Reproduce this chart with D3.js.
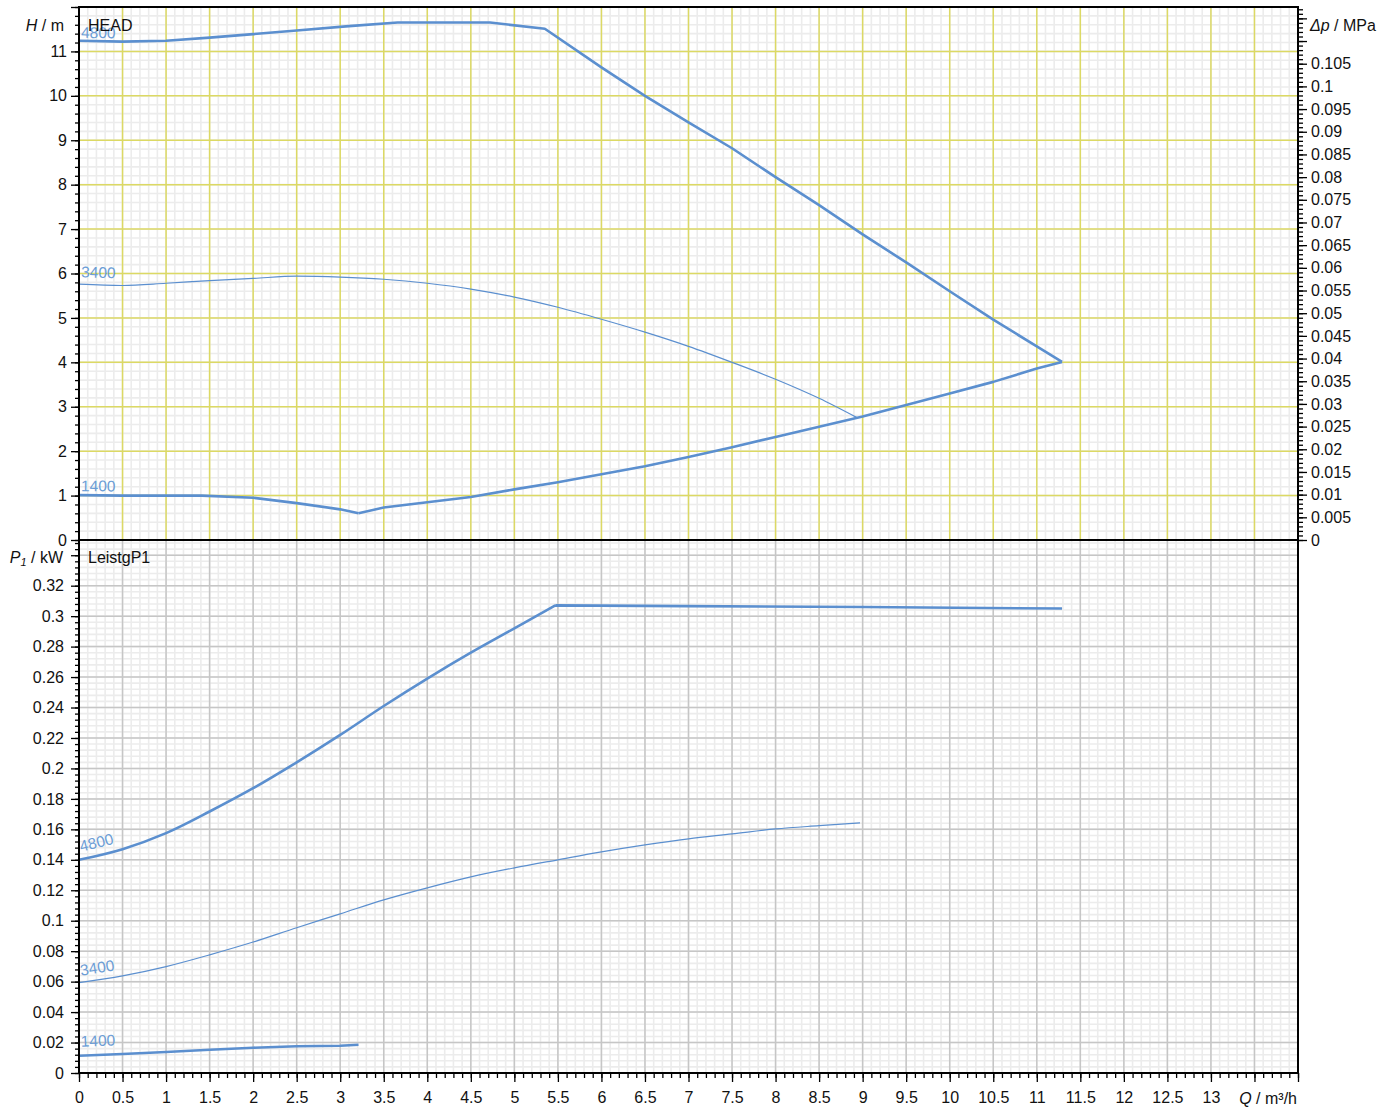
<!DOCTYPE html>
<html>
<head>
<meta charset="utf-8">
<script src="https://cdn.jsdelivr.net/npm/d3@7"></script>
<style>
  body { margin: 0; background: #fff; }
  text { font-family: "Liberation Sans", Arial, sans-serif; }
  .tick text { font-size: 16px; fill: #111; }
  .tick line { stroke: #000; stroke-width: 1.3; }
</style>
</head>
<body>
<svg id="chart"></svg>
<script>
// ---- data ----
// head curves, H in m over Q in m3/h
const q4800H = [0, 0.5, 1, 1.5, 2, 2.5, 3.1, 3.66, 4.72, 5.35, 6, 6.5, 7, 7.5, 8, 8.5, 9, 9.5, 10, 10.5, 11, 11.29]
const h4800  = [11.24, 11.22, 11.24, 11.31, 11.39, 11.47, 11.57, 11.65, 11.65, 11.51, 10.64, 10.0, 9.4, 8.82, 8.17, 7.54, 6.88, 6.25, 5.6, 4.96, 4.36, 4.01]

const q3400H = [0, 0.5, 1, 1.5, 2, 2.5, 3, 3.5, 4, 4.5, 5, 5.5, 6, 6.5, 7, 7.5, 8, 8.5, 8.93]
const h3400  = [5.76, 5.73, 5.78, 5.84, 5.89, 5.94, 5.92, 5.87, 5.78, 5.65, 5.47, 5.24, 4.97, 4.68, 4.36, 4.0, 3.62, 3.19, 2.76]

const q1400H = [0, 0.5, 1, 1.41, 2, 2.5, 3, 3.21]
const h1400  = [1.01, 1.0, 1.0, 1.0, 0.95, 0.83, 0.69, 0.60]

// end-of-curve limit line
const qLimit = [3.21, 3.5, 4, 4.5, 5, 5.5, 6, 6.5, 7, 7.5, 8, 8.5, 9, 9.5, 10, 10.5, 11, 11.29]
const hLimit = [0.60, 0.73, 0.85, 0.97, 1.14, 1.3, 1.48, 1.66, 1.87, 2.09, 2.32, 2.55, 2.78, 3.04, 3.30, 3.56, 3.86, 4.01]

// power curves, P1 in kW
const q4800P = [0, 0.5, 1, 1.5, 2, 2.5, 3, 3.5, 4, 4.5, 5, 5.47, 7, 9, 11.29]
const p4800  = [0.140, 0.147, 0.1575, 0.1717, 0.187, 0.204, 0.222, 0.241, 0.259, 0.276, 0.292, 0.3071, 0.3066, 0.306, 0.305]

const q3400P = [0, 0.5, 1, 1.5, 2, 2.5, 3, 3.5, 4, 4.5, 5, 5.5, 6, 6.5, 7, 7.5, 8, 8.5, 8.97]
const p3400  = [0.0593, 0.0638, 0.0699, 0.0776, 0.086, 0.0954, 0.1045, 0.1137, 0.1216, 0.1288, 0.1347, 0.14, 0.1452, 0.1498, 0.1538, 0.157, 0.1603, 0.1624, 0.1642]

const q1400P = [0, 0.5, 1, 1.5, 2, 2.5, 3, 3.21]
const p1400  = [0.0113, 0.0125, 0.0138, 0.0153, 0.0166, 0.0176, 0.0179, 0.0186]

// tick labels
const qLabels  = [0, 0.5, 1, 1.5, 2, 2.5, 3, 3.5, 4, 4.5, 5, 5.5, 6, 6.5, 7, 7.5, 8, 8.5, 9, 9.5, 10, 10.5, 11, 11.5, 12, 12.5, 13]
const hLabels  = [0, 1, 2, 3, 4, 5, 6, 7, 8, 9, 10, 11]
const dpLabels = [0, 0.005, 0.01, 0.015, 0.02, 0.025, 0.03, 0.035, 0.04, 0.045, 0.05, 0.055, 0.06, 0.065, 0.07, 0.075, 0.08, 0.085, 0.09, 0.095, 0.1, 0.105]
const pLabels  = [0, 0.02, 0.04, 0.06, 0.08, 0.1, 0.12, 0.14, 0.16, 0.18, 0.2, 0.22, 0.24, 0.26, 0.28, 0.3, 0.32]

const MPA_PER_M = 0.009792  // rho*g for water

// ---- layout ----
const W = 1399, H = 1111
const pL = 79, pR = 1298, pT = 7, pM = 540, pB = 1073
const blue = "#5b8fcf"
const labelBlue = "#6b9dd6"

const svg = d3.select("#chart").attr("width", W).attr("height", H)
svg.append("rect").attr("width", W).attr("height", H).attr("fill", "#fff")

const x = d3.scaleLinear().domain([0, 14]).range([pL, pR])
const yH = d3.scaleLinear().domain([0, 12]).range([pM, pT])
const yDp = d3.scaleLinear().domain([0, 12 * MPA_PER_M]).range([pM, pT])
const yP = d3.scaleLinear().domain([0, 0.35]).range([pB, pM])

const steps = (n, s) => d3.range(0, n + 1).map(i => +(i * s).toFixed(4))
const qMinor = steps(140, 0.1), qMajor = steps(28, 0.5)
const hMinor = steps(60, 0.2), hMajor = steps(12, 1)
const dpMinor = steps(117, 0.001), dpMajor = steps(23, 0.005)
const pMinor = steps(87, 0.004), pMajor = steps(17, 0.02)
const fmt = d => String(+d.toFixed(4))

// ---- grids ----
function grid(yScale, yMinor, yMajor, y0, y1, majorColor) {
  const g = svg.append("g")
  g.selectAll(".vmin").data(qMinor).enter().append("line")
    .attr("x1", d => x(d)).attr("x2", d => x(d)).attr("y1", y0).attr("y2", y1)
    .attr("stroke", "#ececec").attr("stroke-width", 1.6)
  g.selectAll(".hmin").data(yMinor).enter().append("line")
    .attr("x1", pL).attr("x2", pR).attr("y1", d => yScale(d)).attr("y2", d => yScale(d))
    .attr("stroke", "#ececec").attr("stroke-width", 1.6)
  g.selectAll(".vmaj").data(qMajor).enter().append("line")
    .attr("x1", d => x(d)).attr("x2", d => x(d)).attr("y1", y0).attr("y2", y1)
    .attr("stroke", majorColor).attr("stroke-width", 1.5)
  g.selectAll(".hmaj").data(yMajor).enter().append("line")
    .attr("x1", pL).attr("x2", pR).attr("y1", d => yScale(d)).attr("y2", d => yScale(d))
    .attr("stroke", majorColor).attr("stroke-width", 1.5)
}
grid(yH, hMinor, hMajor, pT, pM, "#dcd964")
grid(yP, pMinor, pMajor, pM, pB, "#c6c6c6")

// ---- curves ----
// points before index `split` are smoothed, the rest drawn straight
function curve(qs, vs, yScale, width, split) {
  const pts = qs.map((q, i) => [q, vs[i]])
  const smooth = d3.line().x(d => x(d[0])).y(d => yScale(d[1])).curve(d3.curveMonotoneX)
  const straight = d3.line().x(d => x(d[0])).y(d => yScale(d[1]))
  const k = split == null ? 0 : split
  const d = (k > 1 ? smooth(pts.slice(0, k + 1)) : "") +
            (k < pts.length - 1 ? straight(pts.slice(k)) : "")
  svg.append("path")
    .attr("d", d)
    .attr("fill", "none").attr("stroke", blue)
    .attr("stroke-width", width).attr("stroke-linejoin", "round")
}
curve(q3400H, h3400, yH, 1.2, q3400H.length - 1)
curve(q4800H, h4800, yH, 2.6, 0)
curve(q1400H, h1400, yH, 2.6, 0)
curve(qLimit, hLimit, yH, 2.6, 0)
curve(q3400P, p3400, yP, 1.2, q3400P.length - 1)
curve(q4800P, p4800, yP, 2.6, 11)
curve(q1400P, p1400, yP, 2.6, 0)

// speed labels at the start of each curve, following the slope
function speedLabel(qs, vs, yScale, txt, off) {
  const x0 = x(qs[0]), y0 = yScale(vs[0])
  const ang = Math.atan2(yScale(vs[1]) - y0, x(qs[1]) - x0) * 180 / Math.PI
  svg.append("text")
    .attr("transform", `translate(${x0 + 2},${y0 - off}) rotate(${ang})`)
    .attr("fill", labelBlue).attr("font-size", 15.5)
    .text(txt)
}
speedLabel(q4800H, h4800, yH, "4800", 3)
speedLabel(q3400H, h3400, yH, "3400", 7)
speedLabel(q1400H, h1400, yH, "1400", 4)
speedLabel(q4800P, p4800, yP, "4800", 8)
speedLabel(q3400P, p3400, yP, "3400", 7)
speedLabel(q1400P, p1400, yP, "1400", 9)

// ---- frame ----
const frame = svg.append("g").attr("stroke", "#000").attr("stroke-width", 2)
frame.append("rect").attr("x", pL).attr("y", pT).attr("width", pR - pL).attr("height", pB - pT).attr("fill", "none")
frame.append("line").attr("x1", pL).attr("x2", pR).attr("y1", pM).attr("y2", pM)

// ---- axes ----
function axis(gen, tx, ty) {
  const g = svg.append("g").attr("transform", `translate(${tx},${ty})`).call(gen)
  g.select(".domain").remove()
  return g
}
const has = (arr, d) => arr.some(v => Math.abs(v - d) < 1e-9)

axis(d3.axisLeft(yH).tickValues(hMinor).tickSize(4).tickFormat(""), pL, 0)
axis(d3.axisLeft(yH).tickValues(hMajor).tickSize(8).tickPadding(4)
  .tickFormat(d => has(hLabels, d) ? fmt(d) : ""), pL, 0)

axis(d3.axisRight(yDp).tickValues(dpMinor).tickSize(5).tickFormat(""), pR, 0)
axis(d3.axisRight(yDp).tickValues(dpMajor).tickSize(9).tickPadding(4)
  .tickFormat(d => has(dpLabels, d) ? fmt(d) : ""), pR, 0)

axis(d3.axisLeft(yP).tickValues(pMinor).tickSize(4).tickFormat(""), pL, 0)
axis(d3.axisLeft(yP).tickValues(pMajor.filter(d => d > 0)).tickSize(8).tickPadding(7)
  .tickFormat(d => has(pLabels, d) ? fmt(d) : ""), pL, 0)
axis(d3.axisLeft(yP).tickValues([0]).tickSize(8).tickPadding(7).tickFormat(fmt), pL, 0)

axis(d3.axisBottom(x).tickValues(qMinor).tickSize(5).tickFormat(""), 0, pB)
axis(d3.axisBottom(x).tickValues(qMajor).tickSize(9).tickPadding(10)
  .tickFormat(d => has(qLabels, d) ? fmt(d) : ""), 0, pB)

// ---- titles ----
function title(xp, yp, anchor, parts) {
  const t = svg.append("text").attr("x", xp).attr("y", yp)
    .attr("text-anchor", anchor).attr("font-size", 16).attr("fill", "#111")
  parts.forEach(p => {
    const s = t.append("tspan").text(p.t)
    if (p.i) s.attr("font-style", "italic")
    if (p.sub) s.attr("font-size", 11).attr("dy", 3)
    if (p.up) s.attr("dy", -3)
  })
}
title(64, 31, "end", [{ t: "H", i: true }, { t: " / m" }])
title(1310, 31, "start", [{ t: "Δp", i: true }, { t: " / MPa" }])
title(63, 563, "end", [{ t: "P", i: true }, { t: "1", i: true, sub: true }, { t: " / kW", up: true }])
title(1297, 1104, "end", [{ t: "Q", i: true }, { t: " / m³/h" }])
title(88, 31, "start", [{ t: "HEAD" }])
title(88, 563, "start", [{ t: "LeistgP1" }])
</script>
</body>
</html>
